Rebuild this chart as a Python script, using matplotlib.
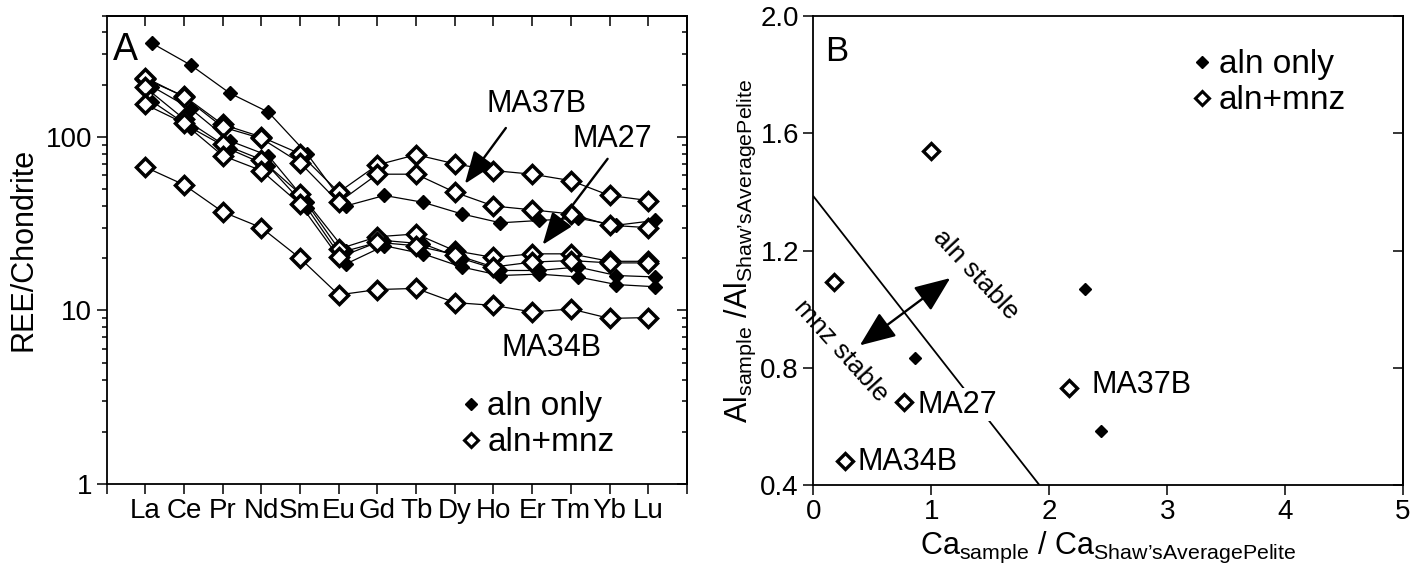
import numpy as np
import matplotlib
matplotlib.use('Agg')
import matplotlib.pyplot as plt
from matplotlib.lines import Line2D
from matplotlib.ticker import LogLocator, NullFormatter

plt.rcParams['font.family'] = ['Liberation Sans', 'DejaVu Sans']
plt.rcParams['mathtext.fontset'] = 'custom'
plt.rcParams['mathtext.rm'] = 'Liberation Sans'
plt.rcParams['mathtext.it'] = 'Liberation Sans:italic'
plt.rcParams['axes.linewidth'] = 1.3

# --- panel A: chondrite normalised REE patterns ---
ree = ['La', 'Ce', 'Pr', 'Nd', 'Sm', 'Eu', 'Gd', 'Tb', 'Dy', 'Ho', 'Er', 'Tm', 'Yb', 'Lu']

# aln+mnz samples (open diamonds)
open_1 = [215, 172, 118, 100, 80, 48, 69, 79, 70, 64, 61, 56, 46, 43]
open_2 = [220, 170, 114, 98, 71, 42, 61, 61, 48, 40, 38, 36, 31, 30]
open_3 = [193, 127, 91, 74, 47, 22.6, 26.6, 27.6, 22.1, 20.2, 21.2, 21.2, 19.2, 19.2]
open_4 = [154, 120, 78, 64, 41, 20.2, 24.7, 23.6, 21, 17.8, 19, 19.4, 18.8, 18.8]
open_5 = [67, 53, 37, 30, 20, 12.3, 13.2, 13.4, 11.1, 10.7, 9.8, 10.2, 9.0, 9.1]

# aln only samples (filled diamonds)
filled_1 = [346, 259, 179, 139, 80, 40, 46, 42, 36, 32, 33, 34, 31, 33]
filled_2 = [195, 145, 95, 78, 42, 22, 25.3, 24.2, 19.9, 17, 17, 17.8, 15.9, 15.6]
filled_3 = [160, 113, 85, 68, 39, 18.5, 23.6, 21.2, 17.8, 15.9, 16.2, 15.6, 14.1, 13.7]

# --- panel B: Al vs Ca normalised to Shaw's average pelite ---
ca_open = [0.177, 1.00, 0.767, 0.267, 2.17]
al_open = [1.091, 1.540, 0.683, 0.481, 0.730]
ca_filled = [0.865, 2.307, 2.437]
al_filled = [0.832, 1.068, 0.584]
boundary_ca = [0.0, 1.914]
boundary_al = [1.385, 0.40]

fig = plt.figure(figsize=(14.16, 5.67), dpi=100)
axA = fig.add_axes([0.0753, 0.1464, 0.4098, 0.826])
axB = fig.add_axes([0.5745, 0.1451, 0.4163, 0.826])

open_style = dict(marker='D', ms=9.5, mfc='white', mec='k', mew=2.5)
filled_style = dict(marker='D', ms=7, mfc='k', mec='k', mew=1)

x = np.arange(1, len(ree) + 1)
for s in [filled_1, filled_2, filled_3]:
    axA.plot(x + 0.18, s, color='k', lw=0.9, **filled_style)
for s in [open_1, open_2, open_3, open_4, open_5]:
    axA.plot(x, s, color='k', lw=0.9, **open_style)

axA.set_yscale('log')
axA.set_ylim(1, 500)
axA.set_xlim(0, 15)
axA.set_xticks(range(16))
axA.set_xticklabels([''] + ree + [''])
axA.set_yticks([1, 10, 100])
axA.set_yticklabels(['1', '10', '100'])
axA.yaxis.set_minor_locator(LogLocator(subs=np.arange(2, 10)))
axA.yaxis.set_minor_formatter(NullFormatter())
axA.tick_params(axis='x', direction='out', length=7, width=1.1, labelsize=20, pad=3)
axA.tick_params(axis='y', which='major', direction='out', length=7, width=1.1, labelsize=20)
axA.tick_params(axis='y', which='minor', direction='out', length=3.5, width=1.1)
axA.set_ylabel('REE/Chondrite', fontsize=22, labelpad=5)

secA_r = axA.secondary_yaxis('right')
secA_r.set_yticks([1, 10, 100])
secA_r.yaxis.set_minor_locator(LogLocator(subs=np.arange(2, 10)))
secA_r.yaxis.set_major_formatter(NullFormatter())
secA_r.yaxis.set_minor_formatter(NullFormatter())
secA_r.tick_params(which='major', direction='in', length=7, width=1.1)
secA_r.tick_params(which='minor', direction='in', length=3.5, width=1.1)

secA_t = axA.secondary_xaxis('top')
secA_t.set_xticks(range(1, 15))
secA_t.xaxis.set_major_formatter(NullFormatter())
secA_t.tick_params(direction='in', length=7, width=1.1)

axA.text(0.01, 0.965, 'A', transform=axA.transAxes, fontsize=27, va='top', ha='left')

arrow = dict(arrowstyle='-|>,head_length=1.0,head_width=0.38', mutation_scale=20,
             lw=1.7, color='k', shrinkA=0, shrinkB=0)
axA.annotate('', xy=(9.26, 53.7), xytext=(10.32, 112.6), arrowprops=arrow)
axA.annotate('', xy=(11.27, 23.9), xytext=(12.95, 74.8), arrowprops=arrow)
axA.text(11.12, 155, 'MA37B', ha='center', va='center', fontsize=22)
axA.text(13.06, 97.4, 'MA27', ha='center', va='center', fontsize=22)
axA.text(11.51, 6.05, 'MA34B', ha='center', va='center', fontsize=22)


def add_legend(ax, anchor, loc):
    handles = [Line2D([], [], ls='none', marker='D', ms=6, mfc='k', mec='k'),
               Line2D([], [], ls='none', marker='D', ms=7, mfc='white', mec='k', mew=2.2)]
    ax.legend(handles, ['aln only', 'aln+mnz'], loc=loc, bbox_to_anchor=anchor,
              frameon=False, fontsize=24, handlelength=0.7, handletextpad=0.15,
              labelspacing=0.15, borderpad=0, borderaxespad=0)


add_legend(axA, (0.607, 0.055), 'lower left')

# --- panel B ---
axB.plot(boundary_ca, boundary_al, color='k', lw=1.3)
axB.plot(ca_filled, al_filled, ls='none', marker='D', ms=6.5, mfc='k', mec='k')
axB.plot(ca_open, al_open, ls='none', marker='D', ms=8.5, mfc='white', mec='k', mew=2.4)

axB.set_xlim(0, 5)
axB.set_ylim(0.4, 2.0)
axB.set_xticks(range(6))
axB.set_yticks([0.4, 0.8, 1.2, 1.6, 2.0])
axB.set_yticklabels(['0.4', '0.8', '1.2', '1.6', '2.0'])
axB.tick_params(axis='both', direction='out', length=7, width=1.1, labelsize=20)
axB.set_xlabel("Ca$_{\\mathrm{sample}}$ / Ca$_{\\mathrm{Shaw’sAveragePelite}}$", fontsize=22, labelpad=3)
axB.set_ylabel("Al$_{\\mathrm{sample}}$ /Al$_{\\mathrm{Shaw’sAveragePelite}}$", fontsize=22, labelpad=2)

secB_r = axB.secondary_yaxis('right')
secB_r.set_yticks([0.4, 0.8, 1.2, 1.6, 2.0])
secB_r.yaxis.set_major_formatter(NullFormatter())
secB_r.tick_params(direction='in', length=7, width=1.1)

axB.text(0.02, 0.96, 'B', transform=axB.transAxes, fontsize=25, va='top', ha='left')

axB.annotate('', xy=(0.393, 0.876), xytext=(1.160, 1.106),
             arrowprops=dict(arrowstyle='<|-|>,head_length=1.1,head_width=0.45', mutation_scale=20,
                             lw=1.7, color='k', shrinkA=0, shrinkB=0))
axB.text(1.376, 1.118, 'aln stable', rotation=-47, ha='center', va='center', fontsize=19,
         rotation_mode='anchor')
axB.text(0.236, 0.857, 'mnz stable', rotation=-48, ha='center', va='center', fontsize=19,
         rotation_mode='anchor')
axB.text(2.36, 0.739, 'MA37B', ha='left', va='center', fontsize=22)
axB.text(0.885, 0.674, 'MA27', ha='left', va='center', fontsize=22,
         bbox=dict(facecolor='white', edgecolor='none', pad=1))
axB.text(0.374, 0.476, 'MA34B', ha='left', va='center', fontsize=22)

add_legend(axB, (0.64, 0.93), 'upper left')

fig.savefig('out.png', dpi=100)
